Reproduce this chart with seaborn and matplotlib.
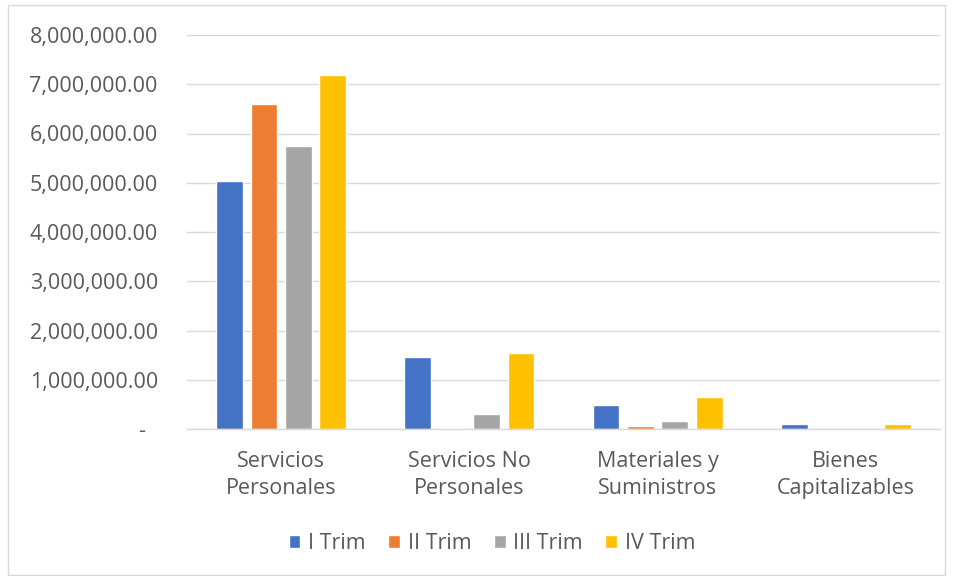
import matplotlib
matplotlib.use("Agg")
import matplotlib.pyplot as plt
import matplotlib.ticker as mticker
from matplotlib.patches import Rectangle
import seaborn as sns
import pandas as pd

categories = ["Servicios\nPersonales", "Servicios No\nPersonales", "Materiales y\nSuministros", "Bienes\nCapitalizables"]
series = ["I Trim", "II Trim", "III Trim", "IV Trim"]
i_trim = [5040000, 1460000, 490000, 110000]
ii_trim = [6600000, 30000, 70000, 0]
iii_trim = [5750000, 300000, 170000, 0]
iv_trim = [7190000, 1540000, 640000, 110000]
colors = ["#4472C4", "#ED7D31", "#A5A5A5", "#FFC000"]

rows = []
for s, vals in zip(series, [i_trim, ii_trim, iii_trim, iv_trim]):
    for c, v in zip(categories, vals):
        rows.append({"cat": c, "serie": s, "val": v})
df = pd.DataFrame(rows)

sns.set_theme(style="white")
plt.rcParams["font.family"] = ["Open Sans", "DejaVu Sans"]

fig = plt.figure(figsize=(9.54, 5.76), dpi=100)
ax = fig.add_axes([187/954, 1-429/576, (940-187)/954, (429-35)/576])

sns.barplot(data=df, x="cat", y="val", hue="serie", palette=colors, order=categories,
            hue_order=series, width=0.73, gap=0.22, ax=ax, saturation=1, legend=True)

ax.set_ylim(0, 8000000)
ax.set_yticks(range(0, 8000001, 1000000))
ax.yaxis.set_major_formatter(mticker.FuncFormatter(
    lambda v, p: "-\u2007" if v == 0 else f"{v:,.2f}"))
ax.grid(axis="y", color="#D9D9D9", linewidth=1)
ax.set_axisbelow(True)
for sp in ["top", "right", "left"]:
    ax.spines[sp].set_visible(False)
ax.spines["bottom"].set_color("#D9D9D9")
ax.spines["bottom"].set_linewidth(1)
ax.set_xlabel("")
ax.set_ylabel("")
ax.tick_params(axis="y", length=0, labelsize=15.5, labelcolor="#595959", pad=21)
ax.tick_params(axis="x", length=0, labelsize=15.5, labelcolor="#595959", pad=16)
for t in ax.get_xticklabels():
    t.set_linespacing(1.38)

ax.legend(loc="center", bbox_to_anchor=(0.405, -0.29), ncol=4, frameon=False,
          fontsize=15.5, labelcolor="#595959", handlelength=0.55, handleheight=0.55,
          columnspacing=1.05, handletextpad=0.35)

fig.patches.append(Rectangle((8/954, 1/576), 937/954, 570/576, transform=fig.transFigure,
                             fill=False, edgecolor="#D9D9D9", linewidth=1))

fig.savefig("out.png", dpi=100)
